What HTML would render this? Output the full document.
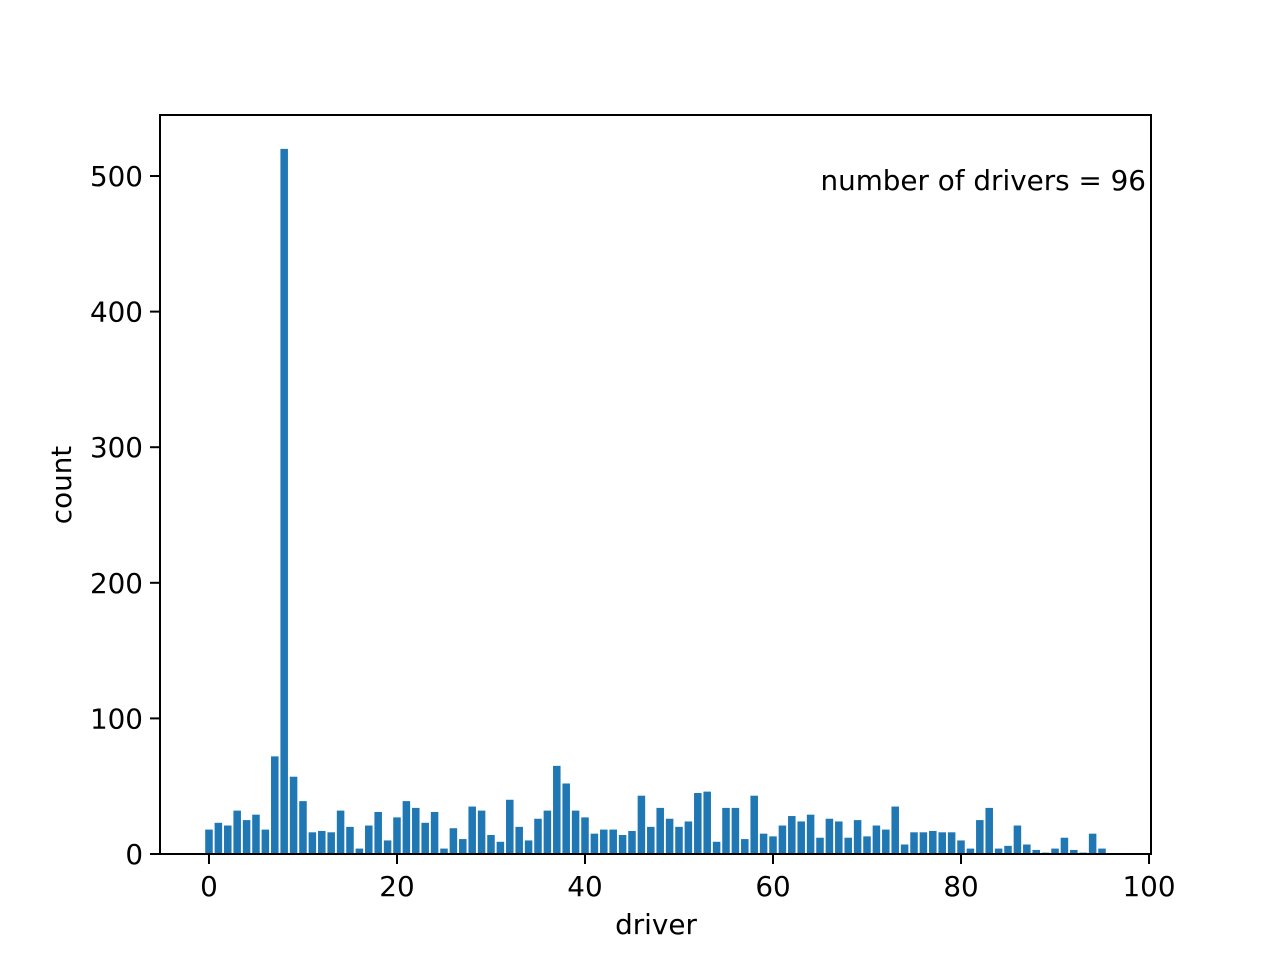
<!DOCTYPE html>
<html><head><meta charset="utf-8"><style>
html,body{margin:0;padding:0;background:#fff;}
svg{display:block;font-family:"DejaVu Sans","Liberation Sans",sans-serif;}
</style></head><body>
<svg id="chart" width="1280" height="960" xmlns="http://www.w3.org/2000/svg">
<rect width="1280" height="960" fill="#fff"/>
<g id="bars"></g>
<g id="axes"></g>
<text x="1146" y="190" font-size="27.8" text-anchor="end">number of drivers = 96</text>
<text x="656" y="934" font-size="27.8" text-anchor="middle">driver</text>
<text transform="translate(71,485) rotate(-90)" font-size="27.8" text-anchor="middle">count</text>
</svg>
<script>
const counts = [18,23,21,32,25,29,18,72,520,57,39,16,17,16,32,20,4,21,31,10,27,39,34,23,31,4,19,11,35,32,14,9,40,20,10,26,32,65,52,32,27,15,18,18,14,17,43,20,34,26,20,24,45,46,9,34,34,11,43,15,13,21,28,24,29,12,26,24,12,25,13,21,18,35,7,16,16,17,16,16,10,4,25,34,4,6,21,7,3,1,4,12,3,1,15,4];
const xTicks = [0,20,40,60,80,100];
const yTicks = [0,100,200,300,400,500];
const L=160,R=1151,T=115,B=854;
const xMin=-5.21,xMax=100.21,yMax=545;
const sx=v=>L+(v-xMin)/(xMax-xMin)*(R-L);
const sy=v=>B-v/yMax*(B-T);
const NS="http://www.w3.org/2000/svg";
const bars=document.getElementById('bars'), axes=document.getElementById('axes');
counts.forEach((c,i)=>{
  const r=document.createElementNS(NS,'rect');
  
  
  const x0=sx(i-0.4),x1=sx(i+0.4);
  r.setAttribute('x',x0);r.setAttribute('width',x1-x0);
  r.setAttribute('y',sy(c));r.setAttribute('height',B-sy(c));
  r.setAttribute('fill','#1f77b4');
  bars.appendChild(r);
});
const frame=document.createElementNS(NS,'rect');


frame.setAttribute('x',L);frame.setAttribute('y',T);frame.setAttribute('width',R-L);frame.setAttribute('height',B-T);
frame.setAttribute('fill','none');frame.setAttribute('stroke','#000');frame.setAttribute('stroke-width','2');
axes.appendChild(frame);
xTicks.forEach(t=>{
  const l=document.createElementNS(NS,'line');
  
  
  l.setAttribute('x1',sx(t));l.setAttribute('x2',sx(t));l.setAttribute('y1',B);l.setAttribute('y2',B+10);
  l.setAttribute('stroke','#000');l.setAttribute('stroke-width','2');
  axes.appendChild(l);
  const tx=document.createElementNS(NS,'text');
  
  
  tx.setAttribute('x',sx(t));tx.setAttribute('y',B+42);tx.setAttribute('font-size','27.8');tx.setAttribute('text-anchor','middle');
  tx.textContent=t;axes.appendChild(tx);
});
yTicks.forEach(t=>{
  const l=document.createElementNS(NS,'line');
  
  
  l.setAttribute('x1',L-10);l.setAttribute('x2',L);l.setAttribute('y1',sy(t));l.setAttribute('y2',sy(t));
  l.setAttribute('stroke','#000');l.setAttribute('stroke-width','2');
  axes.appendChild(l);
  const tx=document.createElementNS(NS,'text');
  
  
  tx.setAttribute('x',L-17);tx.setAttribute('y',sy(t)+10);tx.setAttribute('font-size','27.8');tx.setAttribute('text-anchor','end');
  tx.textContent=t;axes.appendChild(tx);
});
</script>
</body></html>
